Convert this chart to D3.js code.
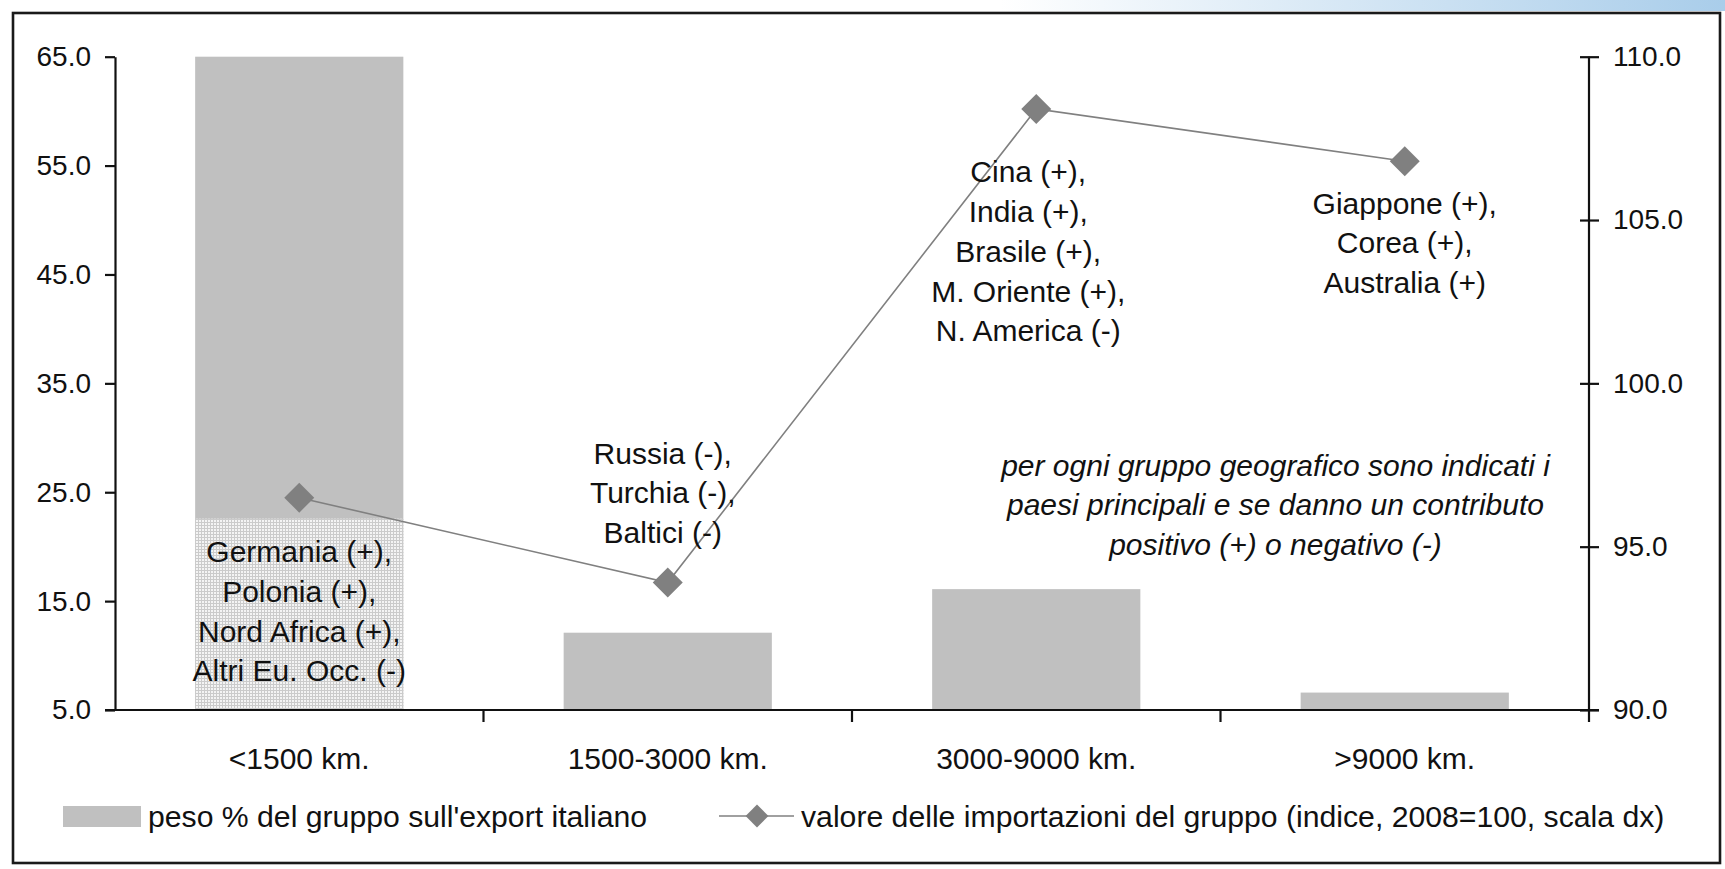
<!DOCTYPE html>
<html>
<head>
<meta charset="utf-8">
<script src="https://cdn.jsdelivr.net/npm/d3@7"></script>
<style>
  html, body { margin: 0; padding: 0; background: #ffffff; }
  svg { display: block; }
  text { font-family: "Liberation Sans", Arial, Helvetica, sans-serif; fill: #111; }
</style>
</head>
<body>
<svg id="chart" width="1725" height="869"></svg>
<script>
// Distance groups of Italian export destinations
const categories = ["<1500 km.", "1500-3000 km.", "3000-9000 km.", ">9000 km."];
// Share of each group in Italian exports (%, left axis)
const exportShare = [65.0, 12.1, 16.1, 6.6];
// Import value of each group (index, 2008=100, right axis)
const importIndex = [96.5, 93.9, 108.4, 106.8];

const leftTicks = [5, 15, 25, 35, 45, 55, 65];
const rightTicks = [90, 95, 100, 105, 110];

// Main countries of each group and the sign of their contribution
const countryLabels = [
  ["Germania (+),", "Polonia (+),", "Nord Africa (+),", "Altri Eu. Occ. (-)"],
  ["Russia (-),", "Turchia (-),", "Baltici (-)"],
  ["Cina (+),", "India (+),", "Brasile (+),", "M. Oriente (+),", "N. America (-)"],
  ["Giappone (+),", "Corea (+),", "Australia (+)"]
];
const noteLines = [
  "per ogni gruppo geografico sono indicati i",
  "paesi principali e se danno un contributo",
  "positivo (+) o negativo (-)"
];
const legendLabels = [
  "peso % del gruppo sull'export italiano",
  "valore delle importazioni del gruppo (indice, 2008=100, scala dx)"
];

const svg = d3.select("#chart");
const FONT = 30;
const LEGEND_FONT = 30.2;
const TICK_FONT = 28;
const LINE_H = 39.7;
const GREY_LINE = "#808080";
const BAR_FILL = "#c0c0c0";

const plot = { left: 115, right: 1589, top: 56.7, bottom: 710 };

// Scales
const x = d3.scaleBand().domain(categories)
  .range([plot.left, plot.right]).paddingInner(0.435).paddingOuter(0.2175);
const xOuter = d3.scaleBand().domain(categories).range([plot.left, plot.right]).padding(0);
const center = c => xOuter(c) + xOuter.bandwidth() / 2;
const yL = d3.scaleLinear().domain([5, 65]).range([plot.bottom, plot.top]);
const yR = d3.scaleLinear().domain([90, 110]).range([plot.bottom, plot.top]);

// Defs: header gradient and fine grid pattern for the label box
const defs = svg.append("defs");
const grad = defs.append("linearGradient").attr("id", "topGrad")
  .attr("x1", "0%").attr("x2", "100%").attr("y1", "0%").attr("y2", "0%");
grad.append("stop").attr("offset", "0%").attr("stop-color", "#ffffff");
grad.append("stop").attr("offset", "100%").attr("stop-color", "#a9cdea");
const pat = defs.append("pattern").attr("id", "grid")
  .attr("width", 3).attr("height", 3).attr("patternUnits", "userSpaceOnUse");
pat.append("rect").attr("width", 3).attr("height", 3).attr("fill", "#f4f4f4");
pat.append("path").attr("d", "M0,0.5H3M0.5,0V3")
  .attr("stroke", "#cbcbcb").attr("stroke-width", 1);

svg.append("rect").attr("x", 1000).attr("y", 0).attr("width", 725).attr("height", 11)
  .attr("fill", "url(#topGrad)");

// Outer frame
svg.append("rect").attr("x", 13).attr("y", 13).attr("width", 1707).attr("height", 850)
  .attr("fill", "#fff").attr("stroke", "#1a1a1a").attr("stroke-width", 2.6);

// Bars
svg.append("g").selectAll("rect").data(categories).join("rect")
  .attr("x", d => x(d))
  .attr("width", x.bandwidth())
  .attr("y", (d, i) => yL(exportShare[i]))
  .attr("height", (d, i) => yL(5) - yL(exportShare[i]))
  .attr("fill", BAR_FILL);

// Patterned label box at the base of the first bar
const firstLabelY = yR(importIndex[0]) + 54;
svg.append("rect")
  .attr("x", x(categories[0]))
  .attr("width", x.bandwidth())
  .attr("y", firstLabelY - 33)
  .attr("height", yL(5) - (firstLabelY - 33))
  .attr("fill", "url(#grid)");

// Left axis
const axL = svg.append("g").attr("transform", `translate(${plot.left},0)`)
  .call(d3.axisLeft(yL).tickValues(leftTicks).tickFormat(d3.format(".1f"))
    .tickSizeInner(10).tickSizeOuter(0).tickPadding(14));
// Right axis with crossing ticks
const axR = svg.append("g").attr("transform", `translate(${plot.right},0)`)
  .call(d3.axisRight(yR).tickValues(rightTicks).tickFormat(d3.format(".1f"))
    .tickSizeInner(10).tickSizeOuter(0).tickPadding(14));
axR.selectAll(".tick line").attr("x1", -9).attr("x2", 10);
axR.select(".domain").attr("d", `M0,${plot.top}V${plot.bottom + 12}`);

// Bottom axis: category boundaries as ticks, labels at band centres
const axB = svg.append("g");
axB.append("line").attr("x1", plot.left - 10).attr("x2", plot.right + 10)
  .attr("y1", plot.bottom).attr("y2", plot.bottom);
const bounds = categories.map(c => xOuter(c)).concat([plot.right]);
axB.selectAll("line.tick").data(bounds.slice(1, 4)).join("line").attr("class", "tick")
  .attr("x1", d => d).attr("x2", d => d)
  .attr("y1", plot.bottom).attr("y2", plot.bottom + 12);
axB.selectAll("line").attr("stroke", "#111").attr("stroke-width", 2.2);
axB.selectAll("text").data(categories).join("text")
  .attr("x", d => center(d)).attr("y", 758).attr("dy", "0.35em")
  .attr("text-anchor", "middle").attr("font-size", FONT).text(d => d);

[axL, axR].forEach(a => {
  a.selectAll("path, line").attr("stroke", "#111").attr("stroke-width", 2.2);
  a.selectAll("text").attr("font-size", TICK_FONT).attr("fill", "#111")
    .style("font-family", "'Liberation Sans', Arial, sans-serif");
});

// Import index line with diamond markers
const pts = categories.map((c, i) => [center(c), yR(importIndex[i])]);
svg.append("path").datum(pts)
  .attr("d", d3.line())
  .attr("fill", "none").attr("stroke", GREY_LINE).attr("stroke-width", 1.6);
const diamond = d3.symbol(d3.symbolSquare, 450);
svg.append("g").selectAll("path").data(pts).join("path")
  .attr("d", diamond)
  .attr("transform", d => `translate(${d[0]},${d[1]}) rotate(45)`)
  .attr("fill", GREY_LINE);

// Country labels per group
function block(lines, cx, y0, style) {
  const t = svg.append("text").attr("text-anchor", "middle").attr("font-size", FONT);
  if (style) t.attr("font-style", style);
  lines.forEach((s, i) => {
    t.append("tspan").attr("x", cx).attr("y", y0 + i * LINE_H).attr("dy", "0.35em").text(s);
  });
}
block(countryLabels[0], center(categories[0]), firstLabelY);
block(countryLabels[1], center(categories[1]) - 5,
  yR(importIndex[1]) - 50 - (countryLabels[1].length - 1) * LINE_H);
block(countryLabels[2], center(categories[2]) - 8, yR(importIndex[2]) + 63);
block(countryLabels[3], center(categories[3]), yR(importIndex[3]) + 42);

// Explanatory note
block(noteLines, xOuter(categories[3]) + 55, yR(97.5), "italic");

// Legend
const lgY = 816;
svg.append("rect").attr("x", 63).attr("y", lgY - 10).attr("width", 78).attr("height", 21)
  .attr("fill", BAR_FILL);
svg.append("text").attr("x", 148).attr("y", lgY).attr("dy", "0.35em")
  .attr("font-size", LEGEND_FONT).text(legendLabels[0]);
svg.append("line").attr("x1", 719).attr("x2", 794).attr("y1", lgY).attr("y2", lgY)
  .attr("stroke", GREY_LINE).attr("stroke-width", 1.6);
svg.append("path").attr("d", d3.symbol(d3.symbolSquare, 260))
  .attr("transform", `translate(757,${lgY}) rotate(45)`).attr("fill", GREY_LINE);
svg.append("text").attr("x", 801).attr("y", lgY).attr("dy", "0.35em")
  .attr("font-size", LEGEND_FONT).text(legendLabels[1]);
</script>
</body>
</html>
